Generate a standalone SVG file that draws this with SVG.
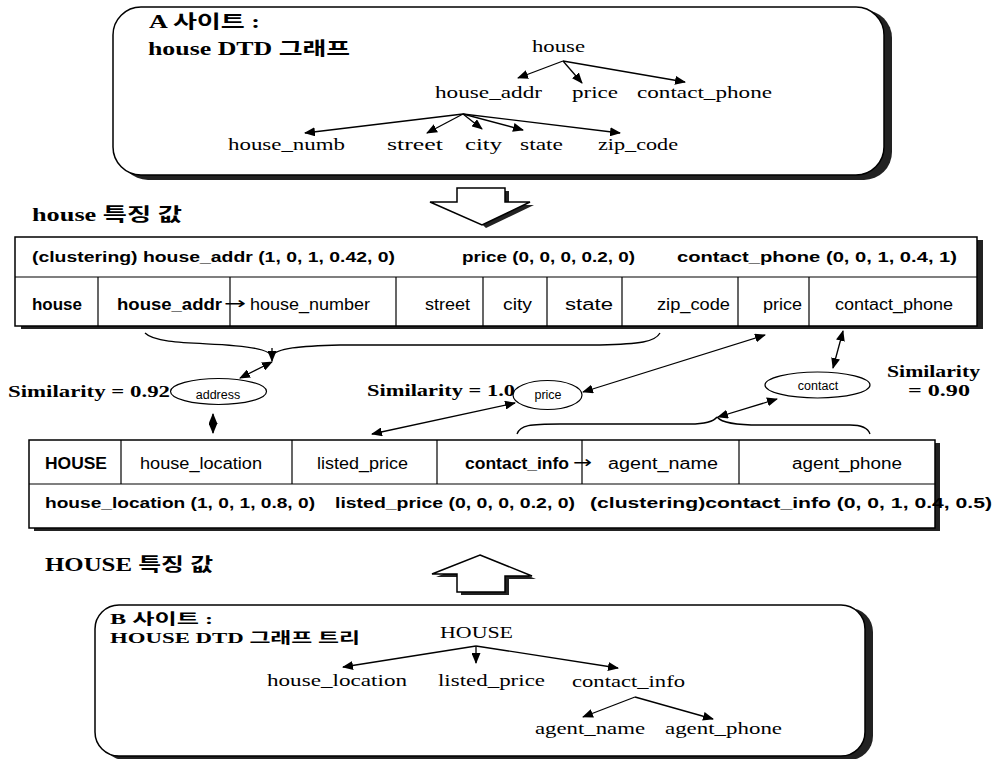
<svg xmlns="http://www.w3.org/2000/svg" width="995" height="759" viewBox="0 0 995 759">
<defs>
<marker id="ah" markerUnits="userSpaceOnUse" markerWidth="11" markerHeight="9" refX="10" refY="4.5" orient="auto-start-reverse" viewBox="0 0 11 9">
<path d="M0,0 L11,4.5 L0,9 z" fill="#000"/>
</marker>
<style>
.ser{font-family:"Liberation Serif","Noto Sans CJK KR",serif;fill:#000}
.ttl{font-family:"Liberation Serif","Noto Sans CJK KR",serif;font-weight:bold;font-size:18px;fill:#000}
.ttlb{font-family:"Liberation Serif","Noto Sans CJK KR",serif;font-weight:bold;font-size:15px;fill:#000}
.tree{font-family:"Liberation Serif",serif;font-size:17px;fill:#000}
.cell{font-family:"Liberation Sans",Arial,sans-serif;font-size:16px;fill:#000}
.cellb{font-family:"Liberation Sans",Arial,sans-serif;font-size:16px;font-weight:bold;fill:#000}
.rarr{font-family:"DejaVu Sans",sans-serif;font-size:17px;fill:#000}
.feat{font-family:"Liberation Sans",Arial,sans-serif;font-size:15.5px;font-weight:bold;fill:#000}
.sim{font-family:"Liberation Serif",serif;font-size:17px;font-weight:bold;fill:#000}
.sim2{font-family:"Liberation Serif",serif;font-size:16px;font-weight:bold;fill:#000}
.ell{font-family:"Liberation Sans",Arial,sans-serif;font-size:12.5px;fill:#000}
.ln{stroke:#000;stroke-width:1.3;fill:none}
.arr{stroke:#000;stroke-width:1.3;fill:none;marker-end:url(#ah)}
.arr2{stroke:#000;stroke-width:1.3;fill:none;marker-end:url(#ah);marker-start:url(#ah)}
.box{fill:#fff;stroke:#000;stroke-width:1.5}
.shadow{fill:#222}
.div{stroke:#000;stroke-width:1.2}
</style>
</defs>
<rect width="995" height="759" fill="#fff"/>

<!-- Site A box -->
<g id="siteA">
<rect class="shadow" x="120" y="10" width="772" height="170" rx="28"/>
<rect class="box" x="113" y="7" width="771" height="168" rx="28"/>
<text class="ttl" x="149" y="28" textLength="111" lengthAdjust="spacingAndGlyphs">A 사이트 :</text>
<text class="ttl" x="148" y="55" textLength="202" lengthAdjust="spacingAndGlyphs">house DTD 그래프</text>
<text class="tree" x="532" y="52" textLength="53" lengthAdjust="spacingAndGlyphs">house</text>
<text class="tree" x="435" y="98" textLength="107" lengthAdjust="spacingAndGlyphs">house_addr</text>
<text class="tree" x="572" y="98" textLength="46" lengthAdjust="spacingAndGlyphs">price</text>
<text class="tree" x="637" y="98" textLength="135" lengthAdjust="spacingAndGlyphs">contact_phone</text>
<text class="tree" x="228" y="150" textLength="117" lengthAdjust="spacingAndGlyphs">house_numb</text>
<text class="tree" x="387" y="150" textLength="56" lengthAdjust="spacingAndGlyphs">street</text>
<text class="tree" x="465" y="150" textLength="37" lengthAdjust="spacingAndGlyphs">city</text>
<text class="tree" x="520" y="150" textLength="43" lengthAdjust="spacingAndGlyphs">state</text>
<text class="tree" x="598" y="150" textLength="80" lengthAdjust="spacingAndGlyphs">zip_code</text>
<g id="treeA-edges">
<line class="arr" x1="563" y1="61" x2="518" y2="78"/>
<line class="arr" x1="563" y1="61" x2="582" y2="83"/>
<line class="arr" x1="563" y1="61" x2="685" y2="82"/>
<line class="arr" x1="463" y1="114" x2="305" y2="133"/>
<line class="arr" x1="463" y1="114" x2="427" y2="133"/>
<line class="arr" x1="463" y1="114" x2="482" y2="129"/>
<line class="arr" x1="463" y1="114" x2="523" y2="130"/>
<line class="arr" x1="463" y1="114" x2="620" y2="133"/>
</g>
</g>

<!-- down block arrow -->
<g id="downArrow">
<polygon class="shadow" points="461,191 509,191 509,205 534,205 486,228 461,205"/>
<polygon class="box" points="457,188 505,188 505,202 530,202 482,225 430,202 457,202"/>
</g>

<g id="houseFeatLabel">
<text class="ttl" x="32" y="221" textLength="150" lengthAdjust="spacingAndGlyphs">house 특징 값</text>
</g>

<!-- Table 1 -->
<g id="houseTable">
<rect class="shadow" x="21" y="240" width="962" height="89"/>
<rect class="box" x="15" y="237" width="962" height="89"/>
<line class="div" x1="15" y1="277" x2="977" y2="277"/>
<line class="div" x1="98" y1="277" x2="98" y2="326"/>
<line class="div" x1="230" y1="277" x2="230" y2="326"/>
<line class="div" x1="396" y1="277" x2="396" y2="326"/>
<line class="div" x1="483" y1="277" x2="483" y2="326"/>
<line class="div" x1="547" y1="277" x2="547" y2="326"/>
<line class="div" x1="622" y1="277" x2="622" y2="326"/>
<line class="div" x1="738" y1="277" x2="738" y2="326"/>
<line class="div" x1="809" y1="277" x2="809" y2="326"/>
<text class="feat" x="32" y="262" textLength="363" lengthAdjust="spacingAndGlyphs">(clustering) house_addr (1, 0, 1, 0.42, 0)</text>
<text class="feat" x="462" y="262" textLength="173" lengthAdjust="spacingAndGlyphs">price (0, 0, 0, 0.2, 0)</text>
<text class="feat" x="677" y="262" textLength="280" lengthAdjust="spacingAndGlyphs">contact_phone (0, 0, 1, 0.4, 1)</text>
<text class="cellb" x="32" y="310" textLength="50" lengthAdjust="spacingAndGlyphs">house</text>
<text class="cellb" x="117" y="310" textLength="105" lengthAdjust="spacingAndGlyphs">house_addr</text>
<text class="rarr" x="224" y="309" textLength="22" lengthAdjust="spacingAndGlyphs">→</text>
<text class="cell" x="250" y="310" textLength="120" lengthAdjust="spacingAndGlyphs">house_number</text>
<text class="cell" x="425" y="310" textLength="45" lengthAdjust="spacingAndGlyphs">street</text>
<text class="cell" x="503" y="310" textLength="29" lengthAdjust="spacingAndGlyphs">city</text>
<text class="cell" x="565" y="310" textLength="48" lengthAdjust="spacingAndGlyphs">state</text>
<text class="cell" x="657" y="310" textLength="73" lengthAdjust="spacingAndGlyphs">zip_code</text>
<text class="cell" x="763" y="310" textLength="39" lengthAdjust="spacingAndGlyphs">price</text>
<text class="cell" x="835" y="310" textLength="118" lengthAdjust="spacingAndGlyphs">contact_phone</text>
</g>

<!-- similarity nodes -->
<g id="addressNode">
<ellipse class="box" cx="218.5" cy="391.5" rx="48" ry="13" style="stroke-width:1.2"/>
<text class="ell" x="218" y="399" text-anchor="middle">address</text>
</g>
<g id="priceNode">
<ellipse class="box" cx="547.5" cy="395" rx="34.5" ry="14.5" style="stroke-width:1.2"/>
<text class="ell" x="548" y="399" text-anchor="middle">price</text>
</g>
<g id="contactNode">
<ellipse class="box" cx="817.5" cy="385" rx="52.5" ry="13" style="stroke-width:1.2"/>
<text class="ell" x="818" y="390" text-anchor="middle">contact</text>
</g>
<g id="simLabels">
<text class="sim" x="8" y="397" textLength="162" lengthAdjust="spacingAndGlyphs">Similarity = 0.92</text>
<text class="sim" x="367" y="396" textLength="148" lengthAdjust="spacingAndGlyphs">Similarity = 1.0</text>
<text class="sim2" x="887" y="377" textLength="93" lengthAdjust="spacingAndGlyphs">Similarity</text>
<text class="sim2" x="908" y="396" textLength="62" lengthAdjust="spacingAndGlyphs">= 0.90</text>
</g>

<!-- Table 2 -->
<g id="HOUSETable">
<rect class="shadow" x="34" y="443" width="906" height="88"/>
<rect class="box" x="29" y="440" width="906" height="88"/>
<line class="div" x1="29" y1="484" x2="935" y2="484"/>
<line class="div" x1="121" y1="440" x2="121" y2="484"/>
<line class="div" x1="292" y1="440" x2="292" y2="484"/>
<line class="div" x1="437" y1="440" x2="437" y2="484"/>
<line class="div" x1="582" y1="440" x2="582" y2="484"/>
<line class="div" x1="739" y1="440" x2="739" y2="484"/>
<text class="cellb" x="45" y="469" textLength="62" lengthAdjust="spacingAndGlyphs">HOUSE</text>
<text class="cell" x="140" y="469" textLength="122" lengthAdjust="spacingAndGlyphs">house_location</text>
<text class="cell" x="317" y="469" textLength="91" lengthAdjust="spacingAndGlyphs">listed_price</text>
<text class="cellb" x="465" y="469" textLength="104" lengthAdjust="spacingAndGlyphs">contact_info</text>
<text class="rarr" x="573" y="468" textLength="19" lengthAdjust="spacingAndGlyphs">→</text>
<text class="cell" x="608" y="469" textLength="110" lengthAdjust="spacingAndGlyphs">agent_name</text>
<text class="cell" x="792" y="469" textLength="110" lengthAdjust="spacingAndGlyphs">agent_phone</text>
<text class="feat" x="45" y="508" textLength="270" lengthAdjust="spacingAndGlyphs">house_location (1, 0, 1, 0.8, 0)</text>
<text class="feat" x="335" y="508" textLength="240" lengthAdjust="spacingAndGlyphs">listed_price (0, 0, 0, 0.2, 0)</text>
<text class="feat" x="590" y="508" textLength="402" lengthAdjust="spacingAndGlyphs">(clustering)contact_info (0, 0, 1, 0.4, 0.5)</text>
</g>

<g id="HOUSEFeatLabel">
<text class="ttl" x="45" y="571" textLength="168" lengthAdjust="spacingAndGlyphs">HOUSE 특징 값</text>
</g>

<!-- up block arrow -->
<g id="upArrow">
<polygon class="shadow" points="484,558 536,579 509,579 509,595 461,595 461,577 436,577"/>
<polygon class="box" points="480,555 532,576 505,576 505,592 457,592 457,574 432,574"/>
</g>

<!-- Site B box -->
<g id="siteB">
<rect class="shadow" x="101" y="608" width="772" height="152" rx="24"/>
<rect class="box" x="95" y="605" width="770" height="151" rx="24"/>
<text class="ttlb" x="110" y="624" textLength="103" lengthAdjust="spacingAndGlyphs">B 사이트 :</text>
<text class="ttlb" x="110" y="643" textLength="250" lengthAdjust="spacingAndGlyphs">HOUSE DTD 그래프 트리</text>
<text class="tree" x="440" y="638" textLength="73" lengthAdjust="spacingAndGlyphs">HOUSE</text>
<text class="tree" x="267" y="686" textLength="140" lengthAdjust="spacingAndGlyphs">house_location</text>
<text class="tree" x="438" y="686" textLength="107" lengthAdjust="spacingAndGlyphs">listed_price</text>
<text class="tree" x="572" y="687" textLength="113" lengthAdjust="spacingAndGlyphs">contact_info</text>
<text class="tree" x="535" y="734" textLength="110" lengthAdjust="spacingAndGlyphs">agent_name</text>
<text class="tree" x="665" y="734" textLength="117" lengthAdjust="spacingAndGlyphs">agent_phone</text>
<g id="treeB-edges">
<line class="arr" x1="476" y1="646" x2="343" y2="667"/>
<line class="arr" x1="476" y1="646" x2="476" y2="663"/>
<line class="arr" x1="476" y1="646" x2="618" y2="668"/>
<line class="arr" x1="635" y1="697" x2="583" y2="717"/>
<line class="arr" x1="635" y1="697" x2="713" y2="719"/>
</g>
</g>

<!-- connectors -->
<g id="connectors">
<path class="ln" d="M145,333 C160,348 230,340 262,350 C268,352 271,354 272,356"/>
<path class="ln" d="M272,356 C276,348 300,346 340,345 L600,345 C640,344 655,342 660,333"/>
<line class="arr" x1="272" y1="348" x2="272" y2="361"/>
<line class="arr2" x1="272" y1="362" x2="240" y2="378"/>
<line class="arr2" x1="213" y1="414" x2="213" y2="433"/>
<line class="arr2" x1="583" y1="392" x2="765" y2="335"/>
<line class="arr2" x1="372" y1="434" x2="515" y2="403"/>
<line class="arr2" x1="843" y1="331" x2="833" y2="368"/>
<path class="ln" d="M517,434 C520,425 530,424 560,424 L690,424 C708,424 714,421 717,417"/>
<path class="ln" d="M717,417 C722,423 735,425 760,425 L850,425 C862,425 868,428 870,434"/>
<line class="arr2" x1="718" y1="417" x2="777" y2="399"/>
</g>
</svg>
